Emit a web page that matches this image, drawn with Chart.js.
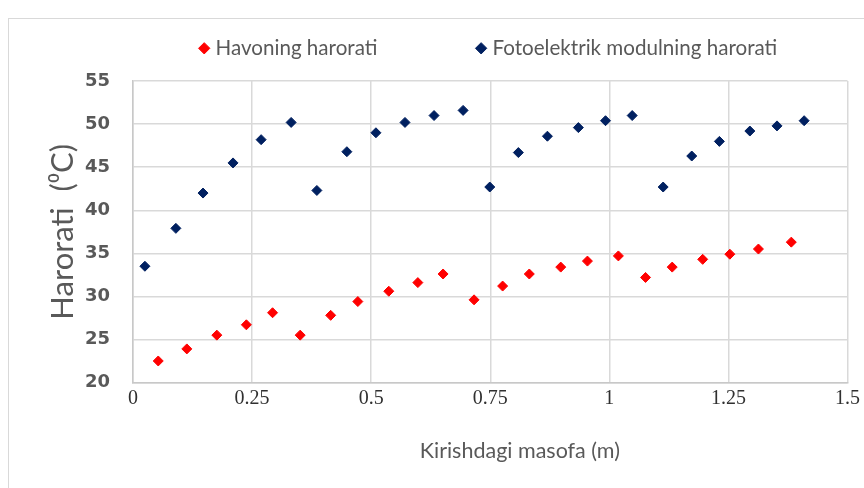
<!DOCTYPE html>
<html>
<head>
<meta charset="utf-8">
<script src="https://cdn.jsdelivr.net/npm/chart.js@4.4.1/dist/chart.umd.min.js"></script>
<style>
  html,body{margin:0;padding:0;background:#fff;}
  #wrap{position:relative;width:864px;height:488px;overflow:hidden;}
  #frame{position:absolute;left:8px;top:18px;width:900px;height:500px;border:1.5px solid #d9d9d9;box-sizing:border-box;}
  #c{position:absolute;left:0;top:0;}
</style>
</head>
<body>
<div id="wrap">
  <div id="frame"></div>
  <canvas id="c" width="864" height="488"></canvas>
</div>
<script>
// Havoning harorati (red)
const havoX = [0.053,0.113,0.176,0.238,0.293,0.351,0.415,0.472,0.537,0.598,0.651,0.716,0.776,0.832,0.898,0.954,1.019,1.076,1.132,1.196,1.253,1.313,1.382];
const havoY = [22.5,23.9,25.5,26.7,28.1,25.5,27.8,29.4,30.6,31.6,32.6,29.6,31.2,32.6,33.4,34.1,34.7,32.2,33.4,34.3,34.9,35.5,36.3];
// Fotoelektrik modulning harorati (navy)
const fotoX = [0.025,0.09,0.147,0.21,0.269,0.332,0.386,0.449,0.51,0.571,0.632,0.693,0.749,0.809,0.87,0.935,0.992,1.048,1.113,1.173,1.231,1.295,1.352,1.409];
const fotoY = [33.5,37.9,42.0,45.5,48.2,50.2,42.3,46.8,49.0,50.2,51.0,51.6,42.7,46.7,48.6,49.6,50.4,51.0,42.7,46.3,48.0,49.2,49.8,50.4];

const seriesNames = ['Havoning harorati','Fotoelektrik modulning harorati'];
const xTitle = 'Kirishdagi masofa (m)';
const yTitle = 'Harorati  (\u2070C)';

function pts(xs, ys){ return xs.map((x,i)=>({x, y: ys[i]})); }

const grey = '#595959';
const gridCol = '#d9d9d9';

new Chart(document.getElementById('c'), {
  type: 'scatter',
  data: {
    datasets: [
      { label: seriesNames[0], data: pts(havoX, havoY), pointStyle:'rectRot', pointRadius:5, borderWidth:1,
        backgroundColor:'#ff0000', borderColor:'#ff0000' },
      { label: seriesNames[1], data: pts(fotoX, fotoY), pointStyle:'rectRot', pointRadius:5, borderWidth:1,
        backgroundColor:'#002060', borderColor:'#002060' }
    ]
  },
  options: {
    responsive: false,
    animation: false,
    layout: { padding: { top: 28, right: 12, bottom: 0, left: 0 } },
    plugins: {
      tooltip: { enabled: false },
      // empty title used only as a spacer between legend and plot
      title: { display: true, text: '', weight: 500, padding: 0, font: { size: 12.5, lineHeight: 1 } },
      legend: {
        position: 'top',
        fullSize: false,
        labels: {
          usePointStyle: true,
          boxWidth: 2,
          boxHeight: 8,
          padding: 10,
          color: grey,
          font: { family: 'Lato', size: 20.6 },
          // widen the gap between the two entries like the original
          generateLabels(chart){
            const items = Chart.defaults.plugins.legend.labels.generateLabels(chart);
            items[0].text = items[0].text + '\u2003'.repeat(6);
            return items;
          }
        }
      }
    },
    scales: {
      x: {
        type: 'linear',
        min: 0, max: 1.5,
        afterFit(s){ s.height = 105.5; },
        ticks: { stepSize: 0.25, padding: 4, color: '#303030', font: { family: 'Liberation Serif', size: 20 },
          callback: v => String(+v.toFixed(2)) },
        grid: { color: gridCol, lineWidth: 1.5, drawTicks: false },
        border: { color: '#c8c8c8', width: 1.5 },
        title: { display: true, text: '\u2003\u2003\u2003\u2002' + xTitle, color: grey, font: { family: 'Lato', size: 21.5 }, padding: { top: 0, bottom: 24 } }
      },
      y: {
        min: 20, max: 55,
        afterFit(s){ s.width = 133; },
        ticks: { stepSize: 5, padding: 23, color: grey, font: { family: 'DejaVu Sans', size: 18, weight: 'bold' } },
        grid: { color: gridCol, lineWidth: 1.5, drawTicks: false },
        border: { color: '#c8c8c8', width: 1.5 },
        title: { display: true, text: yTitle, color: grey, font: { family: 'Lato', size: 31 }, padding: { top: 44, bottom: 0 } }
      }
    }
  }
});
</script>
</body>
</html>
